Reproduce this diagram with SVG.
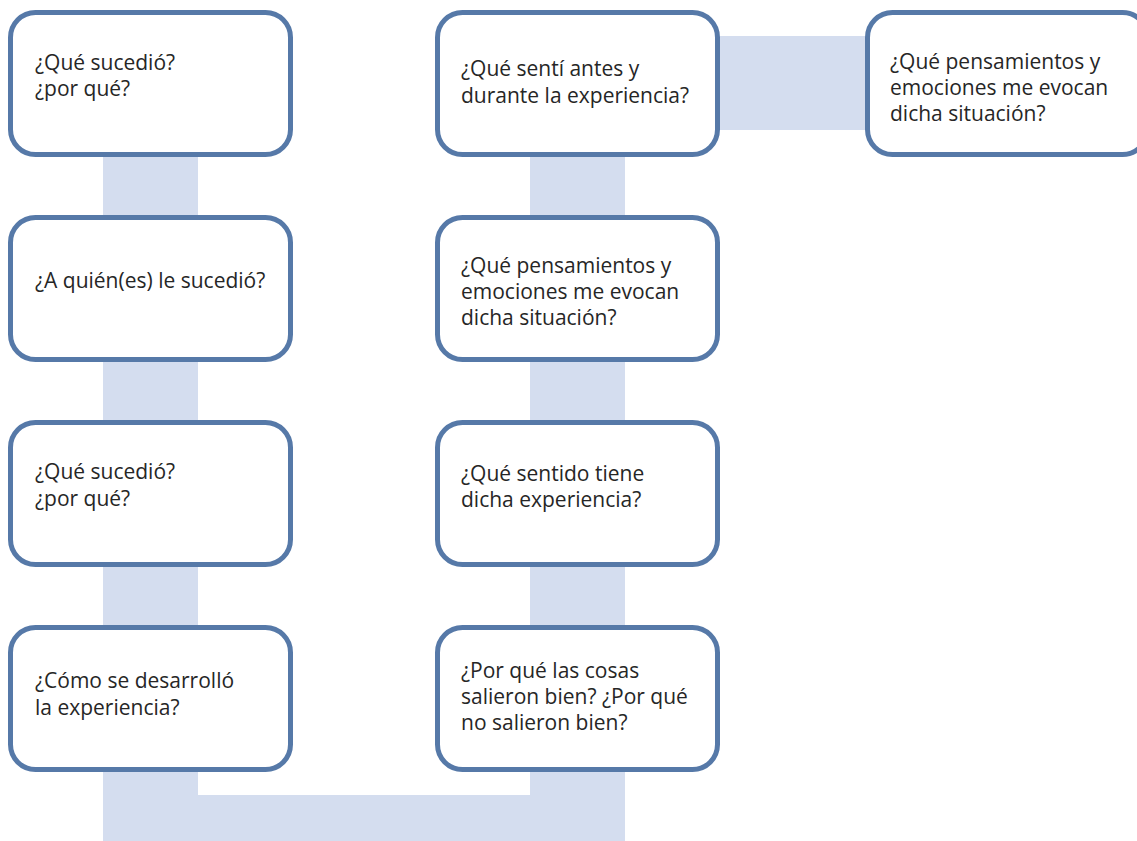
<svg xmlns="http://www.w3.org/2000/svg" width="1137" height="841" viewBox="0 0 1137 841">
<style>
.box{fill:#fff;stroke:#5679a8;stroke-width:5}
.band{fill:#d4ddef}
text{font-family:"Open Sans","Lato",sans-serif;font-size:21px;fill:#262626}
</style>
<rect width="1137" height="841" fill="#fff"/>
<g id="connectors">
<rect class="band" x="103" y="150" width="95" height="691"/>
<rect class="band" x="103" y="795" width="522" height="46"/>
<rect class="band" x="530" y="150" width="95" height="691"/>
<rect class="band" x="715" y="36" width="155" height="94"/>
</g>
<g id="n1"><rect class="box" x="10.5" y="12.5" width="280" height="142" rx="25"/><text x="35" y="70">¿Qué sucedió?</text><text x="35" y="96">¿por qué?</text></g>
<g id="n2"><rect class="box" x="10.5" y="217.5" width="280" height="142" rx="25"/><text x="35" y="288">¿A quién(es) le sucedió?</text></g>
<g id="n3"><rect class="box" x="10.5" y="422.5" width="280" height="142" rx="25"/><text x="35" y="479">¿Qué sucedió?</text><text x="35" y="506">¿por qué?</text></g>
<g id="n4"><rect class="box" x="10.5" y="627.5" width="280" height="142" rx="25"/><text x="35" y="688">¿Cómo se desarrolló</text><text x="35" y="715">la experiencia?</text></g>
<g id="n5"><rect class="box" x="437.5" y="12.5" width="280" height="142" rx="25"/><text x="461" y="76">¿Qué sentí antes y</text><text x="461" y="103">durante la experiencia?</text></g>
<g id="n6"><rect class="box" x="437.5" y="217.5" width="280" height="142" rx="25"/><text x="461" y="273">¿Qué pensamientos y</text><text x="461" y="299">emociones me evocan</text><text x="461" y="325">dicha situación?</text></g>
<g id="n7"><rect class="box" x="437.5" y="422.5" width="280" height="142" rx="25"/><text x="461" y="481">¿Qué sentido tiene</text><text x="461" y="507">dicha experiencia?</text></g>
<g id="n8"><rect class="box" x="437.5" y="627.5" width="280" height="142" rx="25"/><text x="461" y="678">¿Por qué las cosas</text><text x="461" y="704">salieron bien? ¿Por qué</text><text x="461" y="730">no salieron bien?</text></g>
<g id="n9"><rect class="box" x="867.5" y="12.5" width="280" height="142" rx="25"/><text x="890" y="69">¿Qué pensamientos y</text><text x="890" y="95">emociones me evocan</text><text x="890" y="121">dicha situación?</text></g>
</svg>
